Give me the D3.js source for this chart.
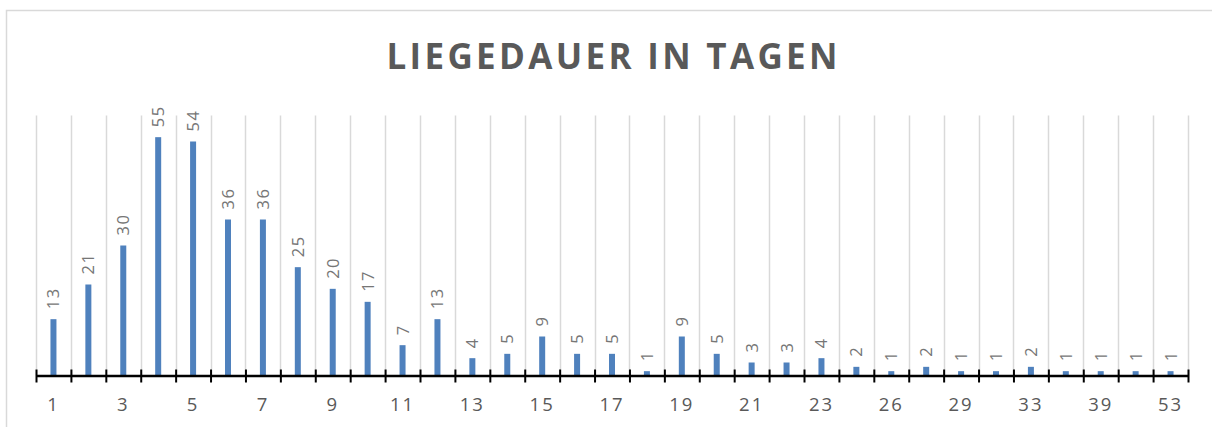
<!DOCTYPE html>
<html>
<head>
<meta charset="utf-8">
<script src="https://cdn.jsdelivr.net/npm/d3@7"></script>
<style>
  html, body { margin: 0; padding: 0; background: #fff; }
  svg { display: block; }
</style>
</head>
<body>
<script>
const title = "LIEGEDAUER IN TAGEN";
const categories = ["1","2","3","4","5","6","7","8","9","10","11","12","13","14","15","16","17","18","19","20","21","22","23","24","26","27","29","31","33","36","39","44","53"];
const values = [13,21,30,55,54,36,36,25,20,17,7,13,4,5,9,5,5,1,9,5,3,3,4,2,1,2,1,1,2,1,1,1,1];
const yDomain = [0, 60];

const W = 1212, H = 427;
const svg = d3.select("body").append("svg").attr("width", W).attr("height", H);

// chart border
svg.append("rect")
  .attr("x", 6.5).attr("y", 10.5).attr("width", 1400).attr("height", 600)
  .attr("fill", "#fff").attr("stroke", "#d9d9d9").attr("stroke-width", 1.5);

const plotLeft = 36, plotRight = 1188, plotTop = 115.5, plotBottom = 375.5;
const x = d3.scaleBand().domain(categories).range([plotLeft, plotRight]).paddingInner(0).paddingOuter(0);
const xi = d3.scaleLinear().domain([0, categories.length]).range([plotLeft, plotRight]);
const y = d3.scaleLinear().domain(yDomain).range([plotBottom, plotTop]);

// gridlines at category boundaries
svg.append("g").selectAll("line")
  .data(d3.range(categories.length + 1))
  .join("line")
  .attr("x1", d => Math.round(xi(d)) + 0.5).attr("x2", d => Math.round(xi(d)) + 0.5)
  .attr("y1", plotTop).attr("y2", plotBottom)
  .attr("stroke", "#d9d9d9").attr("stroke-width", 1.5);

// title
svg.append("text")
  .attr("x", 612).attr("y", 69)
  .attr("text-anchor", "middle")
  .attr("font-family", "'Open Sans', sans-serif")
  .attr("font-weight", "bold")
  .attr("font-size", 35)
  .attr("fill", "#595959")
  .attr("textLength", 451)
  .attr("lengthAdjust", "spacing")
  .text(title);

// bars
const barW = 6;
svg.append("g").selectAll("rect")
  .data(values)
  .join("rect")
  .attr("x", (d, i) => x(categories[i]) + x.bandwidth() / 2 - barW / 2)
  .attr("width", barW)
  .attr("y", d => y(d))
  .attr("height", d => y(0) - y(d))
  .attr("fill", "#4f81bd");

// data labels (rotated)
svg.append("g").selectAll("text")
  .data(values)
  .join("text")
  .attr("transform", (d, i) => {
    const cx = x(categories[i]) + x.bandwidth() / 2 + 6;
    const cy = y(d) - 10;
    return `translate(${cx},${cy}) rotate(-90)`;
  })
  .attr("font-family", "'Open Sans', sans-serif")
  .attr("font-size", 16.5)
  .attr("letter-spacing", 1.5)
  .attr("fill", "#767676")
  .text(d => d);

// axis: line + ticks at boundaries
const axisG = svg.append("g").attr("transform", `translate(0,${plotBottom})`);
const axis = d3.axisBottom(xi).tickValues(d3.range(categories.length + 1)).tickFormat("").tickSizeOuter(0);
axisG.call(axis);
axisG.select(".domain").attr("stroke", "#000").attr("stroke-width", 2.5);
axisG.selectAll(".tick line").attr("y1", -6).attr("y2", 7).attr("stroke", "#000").attr("stroke-width", 2);

// category labels (every other)
const labG = svg.append("g").attr("transform", `translate(0,${plotBottom})`);
labG.call(d3.axisBottom(x).tickSize(0).tickFormat((d, i) => i % 2 === 0 ? d : ""));
labG.select(".domain").remove();
labG.selectAll(".tick text")
  .attr("y", 35.5).attr("dy", 0)
  .attr("font-family", "'Open Sans', sans-serif")
  .attr("font-size", 18.5)
  .attr("letter-spacing", 2)
  .attr("fill", "#595959");
</script>
</body>
</html>
